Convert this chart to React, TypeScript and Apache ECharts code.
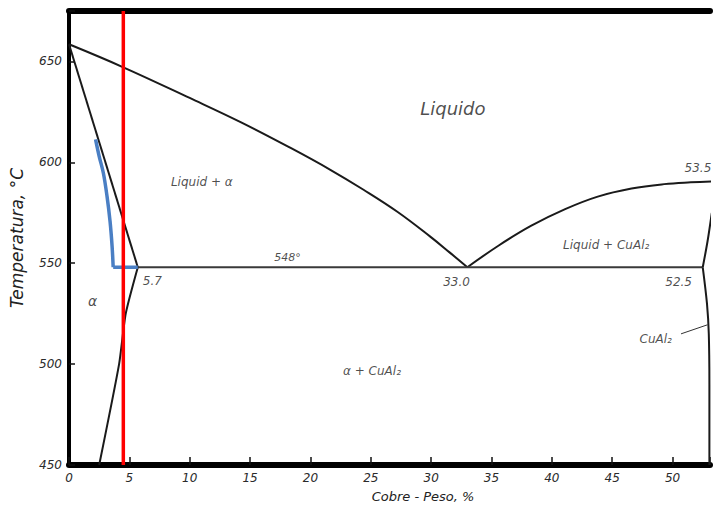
import React, { useEffect, useRef } from "react";
import * as echarts from "echarts";

// Phase-diagram boundaries: [Cu wt%, °C]
const liquidusAlpha = [[0, 658.5], [4.5, 647.1], [10, 631.9], [14.3, 619.7], [18.4, 607.0], [21.65, 596.3], [24.4, 586.4], [27.2, 575.5], [29.9, 563.3], [31.5, 555.5], [33, 548]];
const liquidusCuAl2 = [[33, 548], [35.6, 558.8], [38.3, 568.6], [41.1, 576.8], [43.8, 583.0], [46.6, 587.0], [49.3, 589.2], [51.5, 590.1], [53.5, 590.6]];
const solidus = [[0, 658.5], [5.7, 548]];
const solvus = [[5.7, 548], [4.7, 525], [4.15, 500], [2.5, 450]];
const eutectic = [[5.7, 548], [52.5, 548]];
const cuAl2Upper = [[53.25, 575], [52.9, 561], [52.5, 548]];
const cuAl2Lower = [[52.5, 548], [52.85, 530], [53.0, 515], [53.05, 490], [53.05, 450]];
const blueCurve = [[2.2, 611.4], [2.5, 603], [2.85, 594.6], [3.15, 583.2], [3.4, 570.8], [3.57, 558.4], [3.66, 548]];
const blueFoot = [[3.66, 548], [5.7, 548]];
const redLine = [[4.5, 450], [4.5, 675]];
const cuAl2Leader = [[50.7, 515], [52.9, 519.5]];

// Annotations: [x, T, text, fontSize]
const regionLabels: [number, number, string, number][] = [
  [31.8, 626.7, "Liquido", 18],
  [11.0, 590.4, "Liquid + α", 12],
  [18.1, 552.7, "548°", 11],
  [6.9, 541, "5.7", 12],
  [32.1, 540.8, "33.0", 12],
  [50.5, 540.8, "52.5", 12],
  [52.1, 597.4, "53.5", 12],
  [44.5, 559.2, "Liquid + CuAl₂", 12],
  [1.95, 531.4, "α", 14],
  [48.6, 512.5, "CuAl₂", 12],
  [25.1, 496.6, "α + CuAl₂", 12],
];

const X_MIN = 0;
const X_MAX = 53.1;
const Y_MIN = 450;
const Y_MAX = 675;
const X_STEP = 5;
const Y_STEP = 50;
const yTitle = "Temperatura, °C";
const xTitle = "Cobre - Peso, %";

const FONT = "DejaVu Sans";

function lineSeries(data: number[][], color: string, width: number, smooth: boolean | number) {
  return {
    type: "line",
    data,
    showSymbol: false,
    symbol: "none",
    smooth,
    lineStyle: { color, width },
    silent: true,
  };
}

export default function App() {
  const ref = useRef<HTMLDivElement>(null);
  useEffect(() => {
    if (!ref.current) return;
    const chart = echarts.init(ref.current, undefined, { renderer: "svg" });
    const tickLabel = { fontFamily: FONT, fontStyle: "italic", fontSize: 12, color: "#2a2a2a" };
    chart.setOption({
      animation: false,
      backgroundColor: "#ffffff",
      grid: { left: 66, right: 0, top: 11, bottom: 41, containLabel: false },
      xAxis: [
        {
          type: "value",
          min: X_MIN,
          max: X_MAX,
          interval: X_STEP,
          position: "bottom",
          axisLine: { show: true, onZero: false, lineStyle: { color: "#000", width: 6 } },
          axisTick: { show: true, inside: true, length: 8, lineStyle: { color: "#111", width: 1.5 } },
          axisLabel: {
            ...tickLabel,
            margin: 7,
            formatter: (v: number) => (v % X_STEP === 0 ? String(v) : ""),
          },
          splitLine: { show: false },
        },
        {
          type: "value",
          min: X_MIN,
          max: X_MAX,
          position: "top",
          axisLine: { show: true, onZero: false, lineStyle: { color: "#000", width: 6 } },
          axisTick: { show: false },
          axisLabel: { show: false },
          splitLine: { show: false },
        },
      ],
      yAxis: {
        type: "value",
        min: Y_MIN,
        max: Y_MAX,
        interval: Y_STEP,
        name: yTitle,
        nameLocation: "middle",
        nameGap: 44,
        nameTextStyle: { fontFamily: FONT, fontStyle: "italic", fontSize: 17, color: "#222" },
        axisLine: { show: true, onZero: false, lineStyle: { color: "#000", width: 4 } },
        axisTick: { show: true, inside: true, length: 6, lineStyle: { color: "#111", width: 1.5 } },
        axisLabel: {
          ...tickLabel,
          margin: 7,
          formatter: (v: number) => (v % Y_STEP === 0 ? String(v) : ""),
        },
        splitLine: { show: false },
      },
      graphic: [
        {
          type: "text",
          x: 423,
          y: 496,
          style: {
            text: xTitle,
            fontFamily: FONT,
            fontStyle: "italic",
            fontSize: 13,
            fill: "#222",
            align: "center",
            verticalAlign: "middle",
          },
        },
      ],
      series: [
        lineSeries(liquidusAlpha, "#1a1a1a", 2, 0.4),
        lineSeries(liquidusCuAl2, "#1a1a1a", 2, 0.4),
        lineSeries(solidus, "#1a1a1a", 2, false),
        lineSeries(solvus, "#1a1a1a", 2, 0.2),
        lineSeries(eutectic, "#3a3a3a", 2, false),
        lineSeries(cuAl2Upper, "#1a1a1a", 2, 0.3),
        lineSeries(cuAl2Lower, "#1a1a1a", 2, 0.3),
        lineSeries(cuAl2Leader, "#333", 1, false),
        lineSeries(blueCurve, "#4a7fc4", 3.5, 0.35),
        lineSeries(blueFoot, "#4a7fc4", 3.5, false),
        lineSeries(redLine, "#ff0000", 3.5, false),
        {
          type: "scatter",
          symbolSize: 0,
          silent: true,
          data: regionLabels.map(([x, y, text, size]) => ({
            value: [x, y],
            label: {
              show: true,
              position: "inside",
              formatter: text,
              fontFamily: FONT,
              fontStyle: "italic",
              fontSize: size,
              color: "#1e1e1e",
            },
          })),
        },
      ],
    });
    return () => chart.dispose();
  }, []);
  return <div ref={ref} style={{ width: 713, height: 506, position: "absolute", left: 0, top: 0 }} />;
}
